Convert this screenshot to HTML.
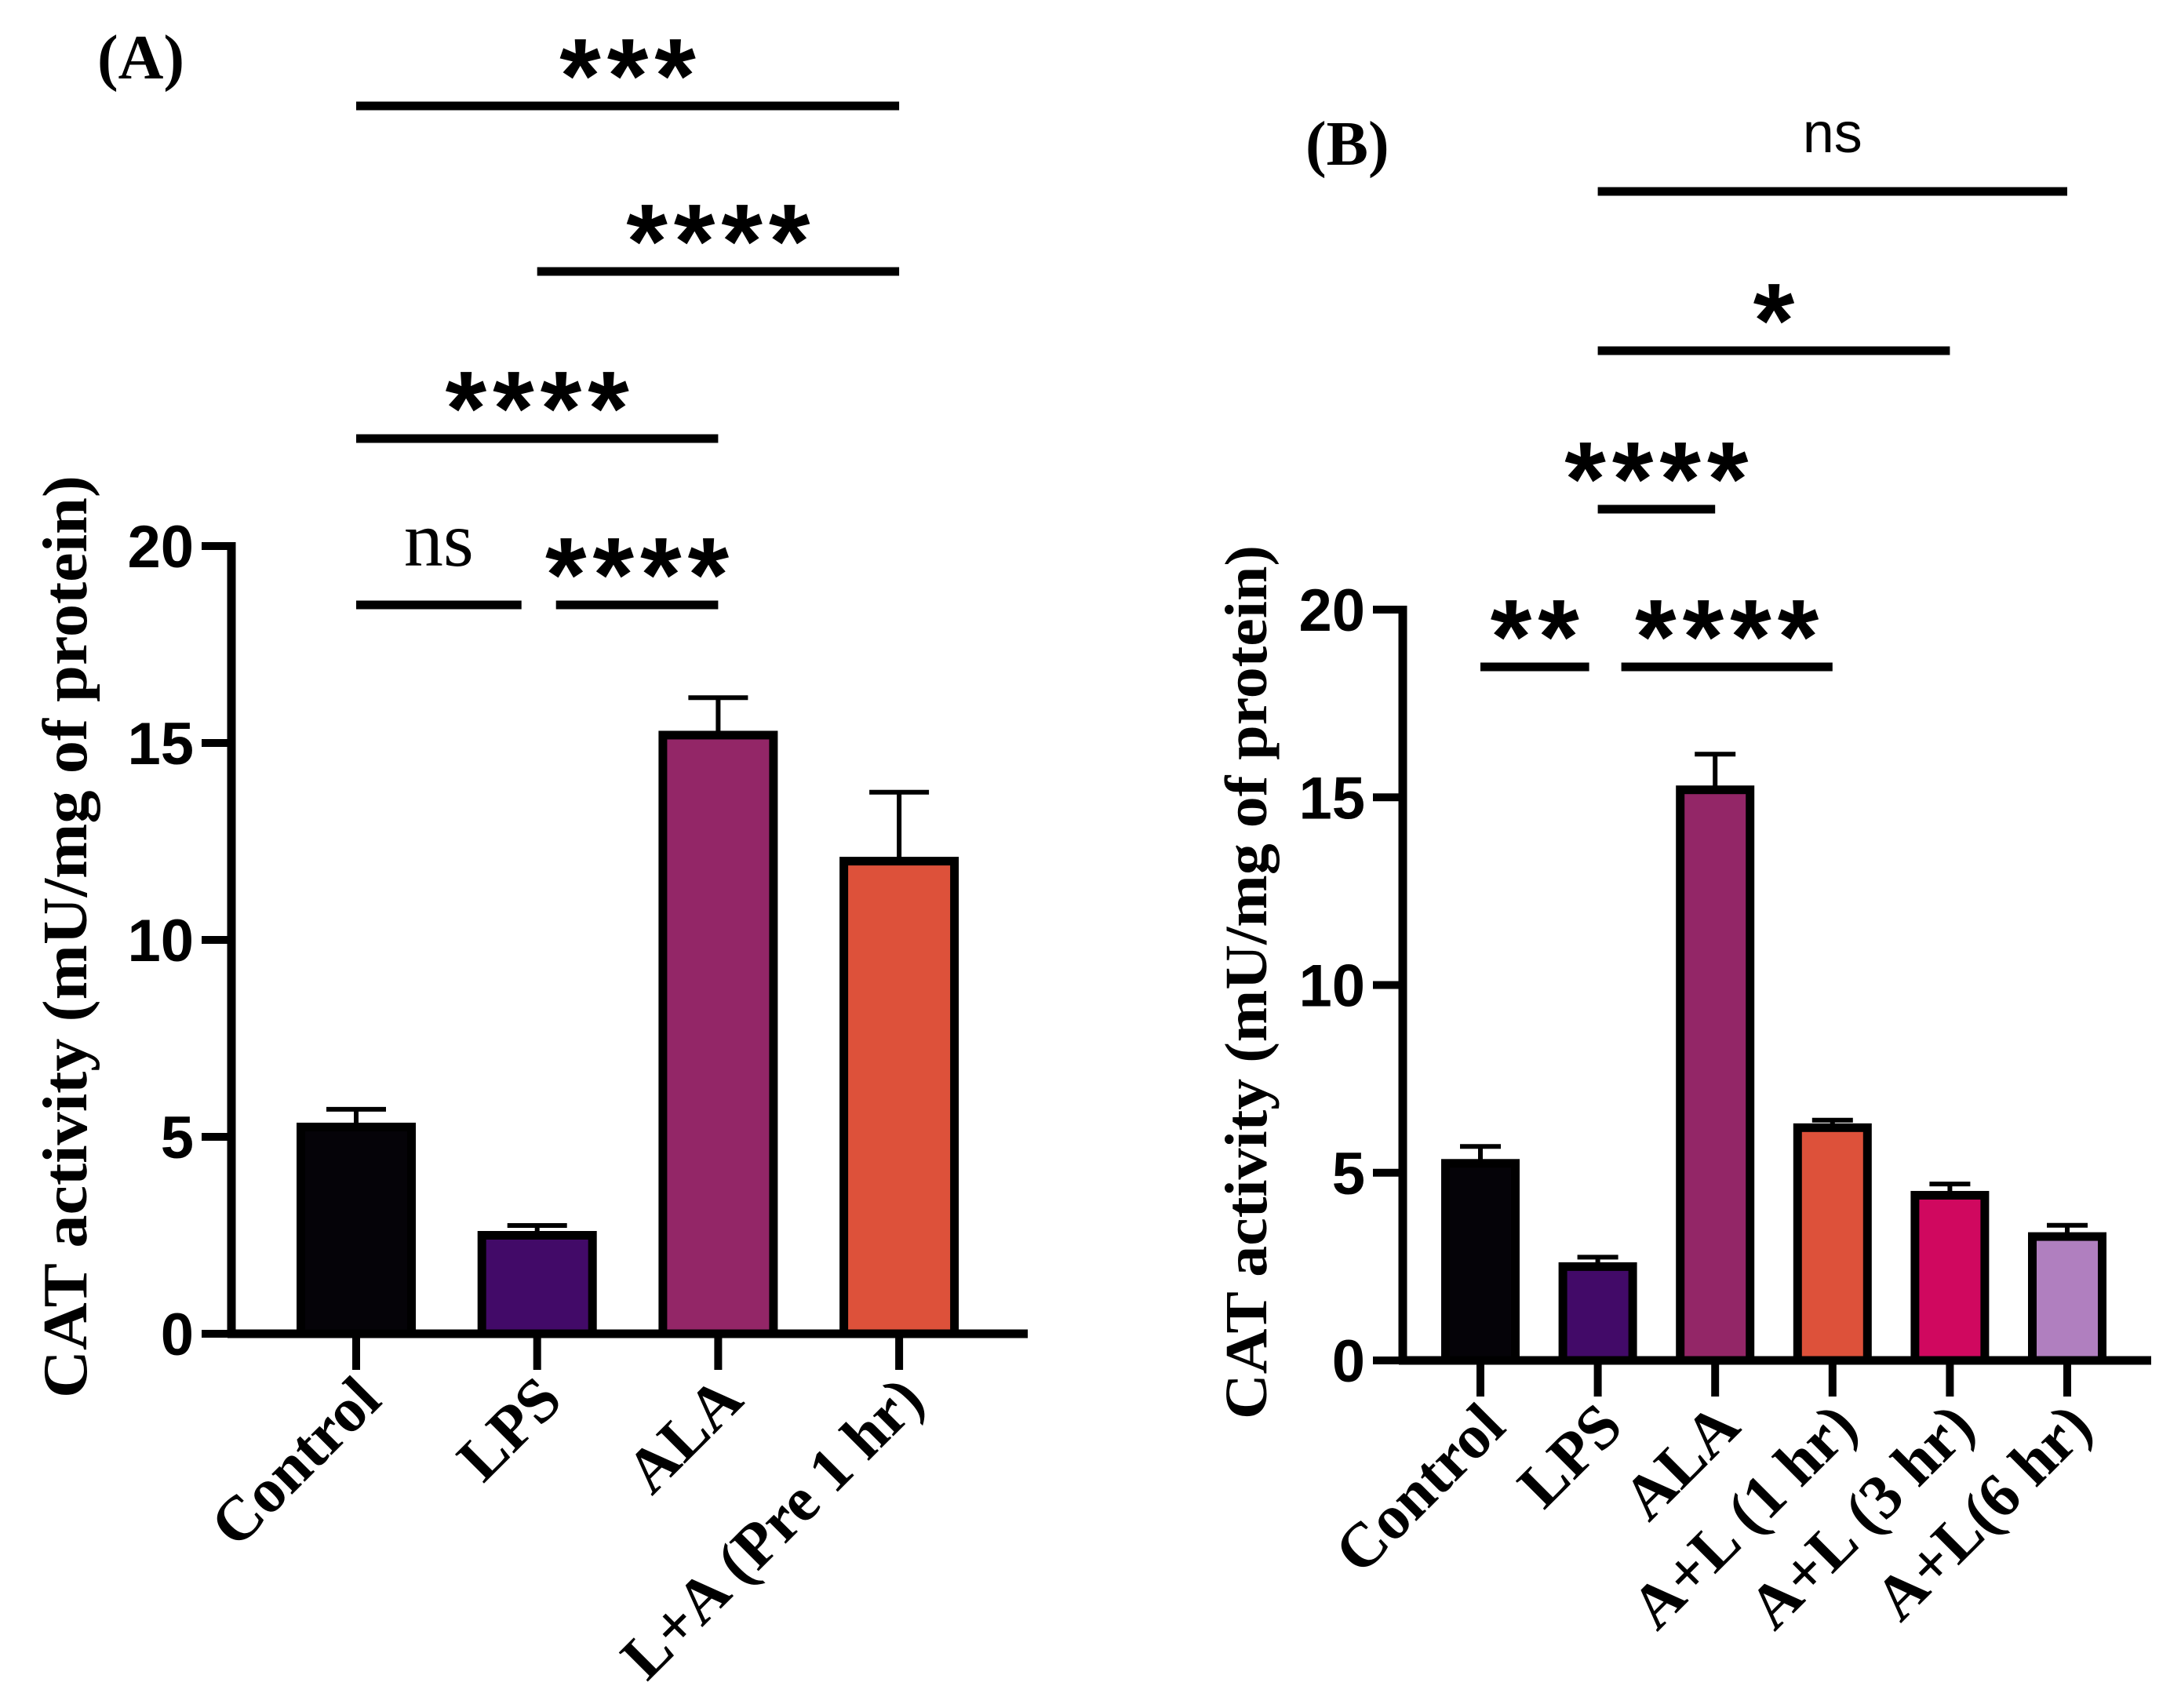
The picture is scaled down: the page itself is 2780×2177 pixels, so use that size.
<!DOCTYPE html>
<html><head><meta charset="utf-8">
<style>
html,body{margin:0;padding:0;background:#fff;}
svg{display:block;}
.tick{font-family:"Liberation Sans",Arial,sans-serif;font-weight:bold;font-size:76px;}
.xl{font-family:"Liberation Serif","Times New Roman",serif;font-weight:bold;font-size:80px;}
.yt{font-family:"Liberation Serif","Times New Roman",serif;font-weight:bold;}
.star{font-family:"Liberation Sans",Arial,sans-serif;font-weight:bold;font-size:135px;letter-spacing:8px;}
.ns{font-family:"Liberation Serif","Times New Roman",serif;font-size:100px;}
.ns2{font-family:"Liberation Sans",Arial,sans-serif;font-size:72px;}
.pl{font-family:"Liberation Serif","Times New Roman",serif;font-weight:bold;font-size:80px;}
</style></head>
<body>
<svg id="chart" width="2780" height="2177" viewBox="0 0 2780 2177" xmlns="http://www.w3.org/2000/svg">
<text class="pl" x="124" y="100">(A)</text>
<text class="pl" x="1664" y="210">(B)</text>
<text class="yt" font-size="80" transform="translate(110,1194) rotate(-90)" text-anchor="middle" textLength="1176" lengthAdjust="spacingAndGlyphs">CAT activity (mU/mg of protein)</text>
<text class="yt" font-size="76" transform="translate(1614,1252) rotate(-90)" text-anchor="middle" textLength="1114" lengthAdjust="spacingAndGlyphs">CAT activity (mU/mg of protein)</text>
<g id="gA"></g>
<g id="gB"></g>
</svg>
<script>
// Panel A data
const catsA = ["Control","LPS","ALA","L+A (Pre 1 hr)"];
const valsA = [5.25, 2.5, 15.2, 12.0];
const errA = [0.45, 0.25, 0.95, 1.75];
const colorsA = ["#050308","#420a68","#932667","#dd513a"];
// Panel B data
const catsB = ["Control","LPS","ALA","A+L (1 hr)","A+L (3 hr)","A+L(6 hr)"];
const valsB = [5.25, 2.5, 15.2, 6.2, 4.4, 3.3];
const errB = [0.45, 0.25, 0.95, 0.2, 0.3, 0.3];
const colorsB = ["#050308","#420a68","#932667","#dd513a","#d0085f","#b07fbf"];
const yTicks = [0,5,10,15,20];
const yTickLabels = ["0","5","10","15","20"];
// significance brackets: [fromIndex, toIndex, label, lineY]
const sigA = [[0,1,"ns",771],[1,2,"****",771],[0,2,"****",559],[1,3,"****",346],[0,3,"***",135]];
const sigB = [[0,1,"**",850],[1,3,"****",850],[1,2,"****",649],[1,4,"*",447],[1,5,"ns",244]];

const NS = "http://www.w3.org/2000/svg";
function mk(parent, tag, attrs){
  const e = document.createElementNS(NS, tag);
  for (const k in attrs) e.setAttribute(k, attrs[k]);
  parent.appendChild(e);
  return e;
}

function drawPanel(g, cfg){
  const y = v => cfg.y0 + (cfg.y20 - cfg.y0) * v / 20;
  const x = i => cfg.x0 + cfg.step * i;
  const sw = 11;
  cfg.vals.forEach((v,i)=>{
    const w = cfg.barW - sw;
    const cx = x(i);
    const eb = mk(g,"line",{x1:cx,x2:cx,y1:y(v),y2:y(v+cfg.err[i]),stroke:"#000","stroke-width":6});
    
    
    const cap = mk(g,"line",{x1:cx-cfg.capW/2,x2:cx+cfg.capW/2,y1:y(v+cfg.err[i]),y2:y(v+cfg.err[i]),stroke:"#000","stroke-width":6});
    
    
    const r = mk(g,"rect",{x:cx-w/2,y:y(v),width:w,height:cfg.y0-y(v),fill:cfg.colors[i],stroke:"#000","stroke-width":sw});
    
    
    const t = mk(g,"line",{x1:cx,x2:cx,y1:cfg.y0,y2:cfg.y0+46,stroke:"#000","stroke-width":10});
    
    
    const lx = cx+35, ly = cfg.y0+88;
    const lbl = mk(g,"text",{class:"xl","text-anchor":"end",x:lx,y:ly,transform:`rotate(-45 ${lx} ${ly})`});
    lbl.textContent = cfg.cats[i];
    
    
  });
  const ya = mk(g,"line",{x1:cfg.ax,x2:cfg.ax,y1:y(20)-5,y2:cfg.y0+5,stroke:"#000","stroke-width":11});
  
  
  const xa = mk(g,"line",{x1:cfg.ax-5,x2:cfg.xEnd,y1:cfg.y0,y2:cfg.y0,stroke:"#000","stroke-width":11});
  
  
  yTicks.forEach((tv,k)=>{
    const tl = mk(g,"line",{x1:cfg.ax-38,x2:cfg.ax,y1:y(tv),y2:y(tv),stroke:"#000","stroke-width":10});
    
    
    const tt = mk(g,"text",{class:"tick","text-anchor":"end",x:cfg.ax-48,y:y(tv)+27});
    tt.textContent = yTickLabels[k];
    
    
  });
  cfg.sig.forEach(s=>{
    const trimStart = cfg.sig.some(o => o!==s && o[3]===s[3] && o[1]===s[0]);
    const trimEnd = cfg.sig.some(o => o!==s && o[3]===s[3] && o[0]===s[1]);
    const x1 = x(s[0]) + (trimStart ? cfg.padStart : 0);
    const x2 = x(s[1]) - (trimEnd ? cfg.padEnd : 0);
    const ln = mk(g,"line",{x1:x1,x2:x2,y1:s[3],y2:s[3],stroke:"#000","stroke-width":11});
    
    
    const isNs = s[2]==="ns";
    const cls = isNs ? cfg.nsClass : "star";
    const ty = isNs ? s[3]-50 : s[3]+8;
    const tx = (x1+x2)/2 + (isNs ? 0 : 4);
    const st = mk(g,"text",{class:cls,"text-anchor":"middle",x:tx,y:ty});
    st.textContent = s[2];
    
    
  });
}

drawPanel(document.getElementById("gA"),{
  cats:catsA, vals:valsA, err:errA, colors:colorsA,
  y0:1700, y20:696, x0:454, step:230.7, barW:152, capW:76,
  ax:295, xEnd:1310, sig:sigA, padStart:24, padEnd:20, nsClass:"ns"
});
drawPanel(document.getElementById("gB"),{
  cats:catsB, vals:valsB, err:errB, colors:colorsB,
  y0:1734, y20:777, x0:1887, step:149.6, barW:100, capW:52,
  ax:1788, xEnd:2742, sig:sigB, padStart:30, padEnd:11, nsClass:"ns2"
});
</script>
</body></html>
